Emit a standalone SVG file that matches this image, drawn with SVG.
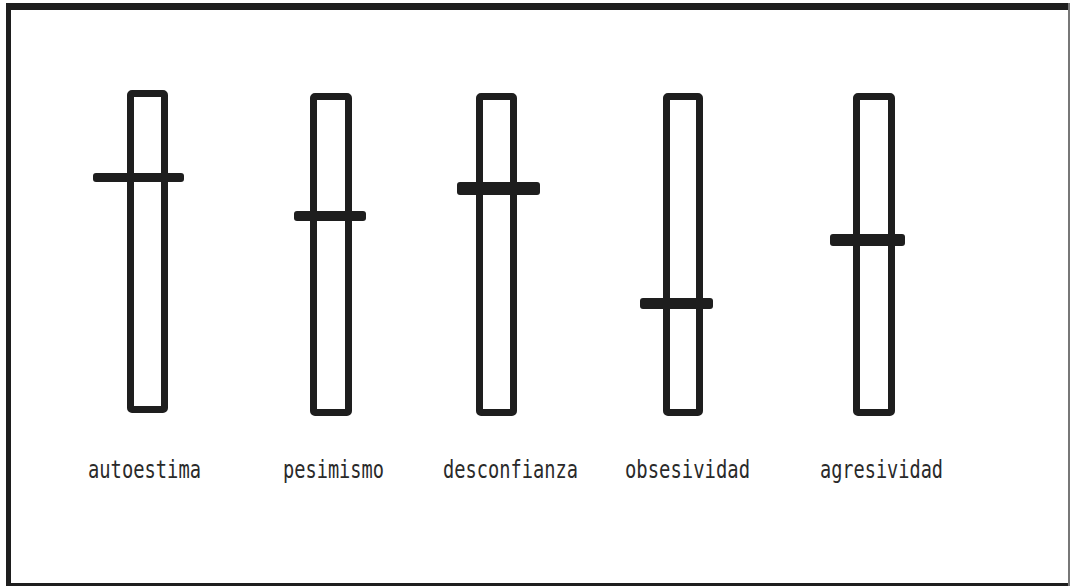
<svg xmlns="http://www.w3.org/2000/svg" width="1070" height="586" viewBox="0 0 1070 586">
  <style>
    .bar { fill: none; stroke: #1e1e1e; stroke-width: 7; }
    .knob { fill: #1e1e1e; }
    .frame { fill: #1e1e1e; }
    .lbl { font-family: "DejaVu Sans Mono", "Liberation Mono", monospace; font-size: 25px; fill: #2a2a2a; }
  </style>
  <rect x="0" y="0" width="1070" height="586" fill="#ffffff"/>
  <g id="frame">
    <rect class="frame" x="6" y="3" width="1063" height="7"/>
    <rect class="frame" x="6" y="3" width="5" height="582"/>
    <rect class="frame" x="6" y="583" width="1064" height="3"/>
    <rect x="1068" y="3" width="2" height="583" fill="#777777"/>
  </g>
  <g id="autoestima">
    <rect class="bar" x="130.5" y="93.5" width="34" height="316" rx="1.5"/>
    <rect class="knob" x="93" y="173" width="91" height="9" rx="3"/>
    <text class="lbl" x="88" y="478" textLength="113" lengthAdjust="spacingAndGlyphs">autoestima</text>
  </g>
  <g id="pesimismo">
    <rect class="bar" x="313.5" y="96.5" width="35" height="316" rx="1.5"/>
    <rect class="knob" x="294" y="211" width="72" height="10" rx="3"/>
    <text class="lbl" x="283" y="478" textLength="101" lengthAdjust="spacingAndGlyphs">pesimismo</text>
  </g>
  <g id="desconfianza">
    <rect class="bar" x="479.5" y="96.5" width="34" height="316" rx="1.5"/>
    <rect class="knob" x="457" y="182" width="83" height="13" rx="3"/>
    <text class="lbl" x="443" y="478" textLength="135" lengthAdjust="spacingAndGlyphs">desconfianza</text>
  </g>
  <g id="obsesividad">
    <rect class="bar" x="666.5" y="96.5" width="33" height="316" rx="1.5"/>
    <rect class="knob" x="640" y="298" width="73" height="11" rx="3"/>
    <text class="lbl" x="625" y="478" textLength="125" lengthAdjust="spacingAndGlyphs">obsesividad</text>
  </g>
  <g id="agresividad">
    <rect class="bar" x="856.5" y="96.5" width="35" height="316" rx="1.5"/>
    <rect class="knob" x="830" y="234" width="75" height="12" rx="3"/>
    <text class="lbl" x="820" y="478" textLength="123" lengthAdjust="spacingAndGlyphs">agresividad</text>
  </g>
  <g id="connectors"/>
</svg>
